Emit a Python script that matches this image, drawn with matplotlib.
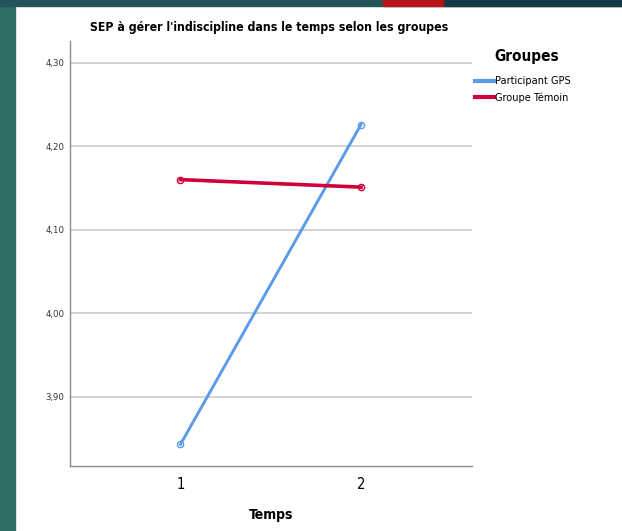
import matplotlib.pyplot as plt
import matplotlib.patches as mpatches
from matplotlib import font_manager as fm
from matplotlib.lines import Line2D

# data
temps = [1, 2]
gps = [3.843, 4.226]
temoin = [4.160, 4.151]
yticks = [3.90, 4.00, 4.10, 4.20, 4.30]
ylabels = ['3,90', '4,00', '4,10', '4,20', '4,30']

# pick a narrow font if one is around
names = {f.name for f in fm.fontManager.ttflist}
stretch = 'normal'
if 'Liberation Sans Narrow' in names:
    FONT = ['Liberation Sans Narrow', 'DejaVu Sans']
elif any(f.name == 'DejaVu Sans' and 'condensed' in str(f.stretch) for f in fm.fontManager.ttflist):
    FONT = ['DejaVu Sans']
    stretch = 'condensed'
else:
    FONT = ['Liberation Sans', 'DejaVu Sans']
plt.rcParams['font.family'] = FONT
plt.rcParams['font.stretch'] = stretch

fig = plt.figure(figsize=(6.22, 5.31), dpi=100)
W, H = 622, 531

# screenshot frame (slide background)
fig.patches.append(mpatches.Rectangle((0, 0), 15 / W, 1, transform=fig.transFigure,
                                      color='#2f6e64', zorder=0))
fig.patches.append(mpatches.Rectangle((0, 1 - 6 / H), 1, 6 / H, transform=fig.transFigure,
                                      color='#24545a', zorder=0))
fig.patches.append(mpatches.Rectangle((443 / W, 1 - 6 / H), 1, 6 / H, transform=fig.transFigure,
                                      color='#173947', zorder=0))
fig.patches.append(mpatches.Rectangle((383 / W, 1 - 6 / H), 60 / W, 6 / H, transform=fig.transFigure,
                                      color='#b51419', zorder=0))

ax = fig.add_axes([70 / W, 1 - 465.7 / H, (471.5 - 70) / W, (465.7 - 41) / H])

ax.plot(temps, gps, color='#5b9be8', lw=2.1, marker='o', ms=4.5, mfc='none', mew=1.0,
        label='Participant GPS', zorder=3)
ax.plot(temps, temoin, color='#d2003a', lw=2.6, marker='o', ms=4.5, mfc='none', mew=1.0,
        label='Groupe Témoin', zorder=3)

ax.set_xlim(0.388, 2.612)
ax.set_ylim(3.8174, 4.326)
ax.set_xticks(temps)
ax.set_xticklabels(['1', '2'], fontsize=10.5)
ax.set_yticks(yticks)
ax.set_yticklabels(ylabels, fontsize=6.8, color='#333333')
ax.tick_params(length=0)
ax.tick_params(axis='x', pad=8)
ax.tick_params(axis='y', pad=4)
ax.grid(axis='y', color='#d4d4d4', lw=1.4)
ax.set_axisbelow(True)
for s in ['top', 'right']:
    ax.spines[s].set_visible(False)
for s in ['left', 'bottom']:
    ax.spines[s].set_color('#8c8c8c')
    ax.spines[s].set_linewidth(1.0)

ax.set_xlabel('Temps', fontsize=10, fontweight='bold', labelpad=12)
fig.text(269 / W, 1 - 28 / H, "SEP à gérer l'indiscipline dans le temps selon les groupes",
         fontsize=8.8, fontweight='bold', ha='center', va='center')

# legend
fig.text(494 / W, 1 - 57 / H, 'Groupes', fontsize=11, fontweight='bold', va='center')
handles = [Line2D([], [], color='#5b9be8', lw=3), Line2D([], [], color='#d2003a', lw=3)]
leg = fig.legend(handles, ['Participant GPS', 'Groupe Témoin'],
                 loc='upper left', bbox_to_anchor=(471 / W, 1 - 72 / H), frameon=False,
                 fontsize=7.8, handlelength=1.7, handletextpad=0.12, labelspacing=0.55,
                 borderaxespad=0)

fig.savefig('out.png', dpi=100)
